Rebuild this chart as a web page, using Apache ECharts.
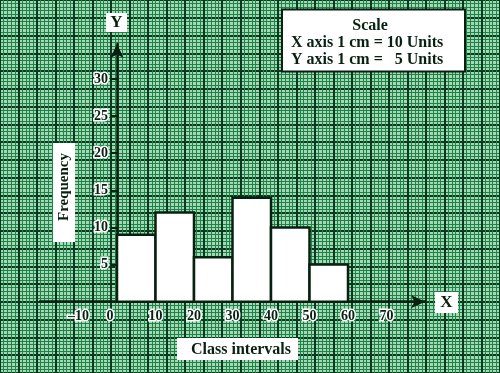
<!DOCTYPE html>
<html><head><meta charset="utf-8">
<script src="https://cdn.jsdelivr.net/npm/echarts@6/dist/echarts.min.js"></script>
<style>html,body{margin:0;padding:0;background:#fff;}#c{width:500px;height:373px;}</style>
</head><body><div id="c"></div>
<script>
// ---- data ----
const classStarts = [0, 10, 20, 30, 40, 50];
const classWidth = 10;
const frequencies = [9, 12, 6, 14, 10, 5];
const xTickLabels = [-10, 0, 10, 20, 30, 40, 50, 60, 70];
const yTickLabels = [5, 10, 15, 20, 25, 30];
const xAxisName = 'X';
const yAxisName = 'Y';
const xTitle = 'Class intervals';
const yTitle = 'Frequency';
const scaleTitle = 'Scale';
const scaleLineX = 'X axis 1 cm = 10 Units';
const scaleLineY = 'Y axis 1 cm =   5 Units';

// ---- style ----
const INK = '#08200f';
const FONT = '"Liberation Serif", "DejaVu Serif", serif';
const MAJOR = '#083a1d';
const MINOR = '#1c8447';
const PAPER = '#a6d6b5';

const chart = echarts.init(document.getElementById('c'), null, {renderer: 'canvas'});

function paperAxis(min, max, interval) {
  return {
    min: min, max: max, interval: interval, type: 'value',
    axisLine: {show: false}, axisTick: {show: false}, axisLabel: {show: false},
    splitLine: {show: true, lineStyle: {color: MAJOR, width: 2}},
    minorTick: {show: false, splitNumber: 5},
    minorSplitLine: {show: true, lineStyle: {color: MINOR, width: 1}}
  };
}
function hiddenAxis(extra) {
  return Object.assign({type: 'value', show: true,
    axisLine: {show: false}, axisTick: {show: false}, axisLabel: {show: false}, splitLine: {show: false}}, extra);
}

const labelStyle = {
  color: INK, fontFamily: FONT, fontWeight: 'bold', fontSize: 14,
  textBorderColor: '#ffffff', textBorderWidth: 3
};
const arrowLine = {show: true, onZero: false, symbol: ['none', 'arrow'], symbolSize: [10, 14],
  lineStyle: {color: INK, width: 2.5}};

const option = {
  backgroundColor: PAPER,
  animation: false,
  grid: [
    {left: -17.75, right: -2, top: -14.1, bottom: -3, containLabel: false},
    {left: 40, right: 75, top: 44, bottom: 71.3, containLabel: false},
    {left: 117, right: 75, top: 44, bottom: 71.3, containLabel: false}
  ],
  xAxis: [
    Object.assign({gridIndex: 0}, paperAxis(-35, 100, 5)),
    {
      gridIndex: 1, type: 'value', min: -20, max: 80, interval: 10, position: 'bottom',
      axisLine: arrowLine,
      axisTick: {show: false},
      splitLine: {show: false},
      axisLabel: Object.assign({
        customValues: xTickLabels, margin: 8,
        formatter: function (v) { return v === 0 ? '{z|0}' : String(v).replace('-', '\u2013'); },
        rich: {z: Object.assign({padding: [0, 14, 0, 0]}, labelStyle)}
      }, labelStyle)
    },
    hiddenAxis({gridIndex: 2, min: 0, max: 80})
  ],
  yAxis: [
    Object.assign({gridIndex: 0}, paperAxis(-10, 42.5, 2.5)),
    hiddenAxis({gridIndex: 1, min: 0, max: 34.7}),
    {
      gridIndex: 2, type: 'value', min: 0, max: 34.7, interval: 5, position: 'left',
      axisLine: arrowLine,
      axisTick: {show: true, customValues: yTickLabels, length: 6, lineStyle: {color: INK, width: 2}},
      splitLine: {show: false},
      axisLabel: Object.assign({customValues: yTickLabels, margin: 9}, labelStyle)
    }
  ],
  series: [{
    type: 'custom', xAxisIndex: 1, yAxisIndex: 1, z: 5,
    data: classStarts.map(function (s, i) { return [s, s + classWidth, frequencies[i]]; }),
    encode: {x: [0, 1], y: 2},
    renderItem: function (params, api) {
      const p0 = api.coord([api.value(0), api.value(2)]);
      const p1 = api.coord([api.value(1), 0]);
      return {
        type: 'rect',
        shape: {x: p0[0], y: p0[1], width: p1[0] - p0[0], height: p1[1] - p0[1]},
        style: {fill: '#ffffff', stroke: INK, lineWidth: 2.5}
      };
    }
  }],
  graphic: [
    {type: 'rect', z: 100, shape: {x: 282, y: 9.5, width: 183, height: 62},
      style: {fill: '#ffffff', stroke: INK, lineWidth: 2}},
    {type: 'text', z: 101, style: {text: scaleTitle, x: 370, y: 26, align: 'center', verticalAlign: 'middle',
      font: 'bold 16px ' + FONT, fill: INK}},
    {type: 'text', z: 101, style: {text: scaleLineX, x: 291, y: 43, align: 'left', verticalAlign: 'middle',
      font: 'bold 16px ' + FONT, fill: INK}},
    {type: 'text', z: 101, style: {text: scaleLineY, x: 291, y: 60, align: 'left', verticalAlign: 'middle',
      font: 'bold 16px ' + FONT, fill: INK}},

    {type: 'rect', z: 100, shape: {x: 53, y: 143, width: 22, height: 99}, style: {fill: '#ffffff'}},
    {type: 'text', z: 101, x: 64, y: 187, rotation: Math.PI / 2,
      style: {text: yTitle, x: 0, y: 0, align: 'center', verticalAlign: 'middle', font: 'bold 15px ' + FONT, fill: INK}},

    {type: 'rect', z: 100, shape: {x: 177, y: 338, width: 121, height: 22}, style: {fill: '#ffffff'}},
    {type: 'text', z: 101, style: {text: xTitle, x: 241, y: 349.5, align: 'center', verticalAlign: 'middle',
      font: 'bold 16px ' + FONT, fill: INK}},

    {type: 'rect', z: 100, shape: {x: 435, y: 292, width: 23, height: 21}, style: {fill: '#ffffff'}},
    {type: 'text', z: 101, style: {text: xAxisName, x: 446.5, y: 302.5, align: 'center', verticalAlign: 'middle',
      font: 'bold 17px ' + FONT, fill: INK}},

    {type: 'rect', z: 100, shape: {x: 106, y: 13, width: 21, height: 19}, style: {fill: '#ffffff'}},
    {type: 'text', z: 101, style: {text: yAxisName, x: 116.5, y: 22.5, align: 'center', verticalAlign: 'middle',
      font: 'bold 17px ' + FONT, fill: INK}}
  ]
};
chart.setOption(option);
</script></body></html>
